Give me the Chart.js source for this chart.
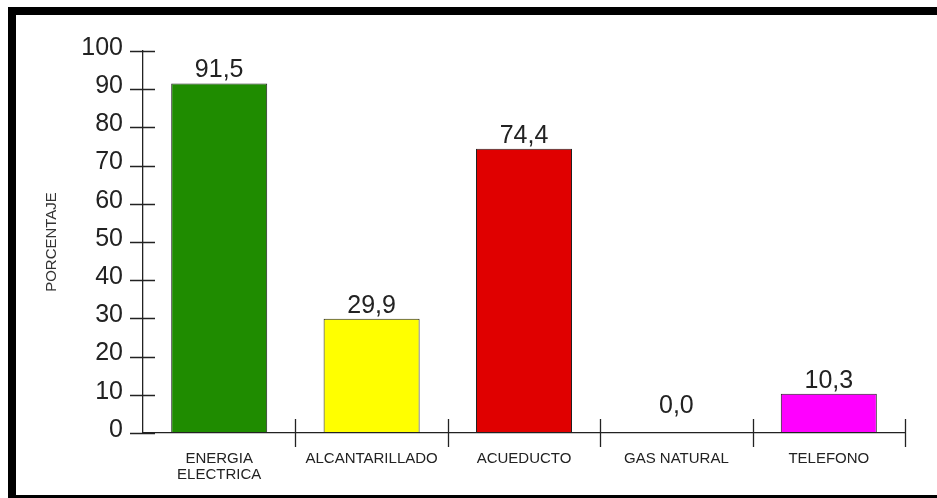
<!DOCTYPE html>
<html>
<head>
<meta charset="utf-8">
<script src="https://cdn.jsdelivr.net/npm/chart.js@4"></script>
<style>
  html, body { margin: 0; padding: 0; background: #fff; overflow: hidden; }
  #wrap { position: relative; width: 937px; height: 498px; }
  #frame {
    position: absolute; left: 8px; top: 7px; width: 1000px; height: 496px;
    box-sizing: border-box; border: 8px solid #000; pointer-events: none;
  }
  canvas { position: absolute; left: 0; top: 0; }
</style>
</head>
<body>
<div id="wrap">
  <canvas id="servicios" width="937" height="498"></canvas>
  <div id="frame"></div>
</div>
<script>
// ─── Datos ────────────────────────────────────────────

const categorias = [['ENERGIA', 'ELECTRICA'], 'ALCANTARILLADO', 'ACUEDUCTO', 'GAS NATURAL', 'TELEFONO'];
const porcentajes = [91.5, 29.9, 74.4, 0.0, 10.3];
const colores = ['#1f8c00', '#ffff00', '#e00000', '#ffffff', '#ff00ff'];
const ticksY = [0, 10, 20, 30, 40, 50, 60, 70, 80, 90, 100];

const INK = '#222';
const FONT = 'Arial, "Liberation Sans", sans-serif';

function fmt(v) {
  return v.toFixed(1).replace('.', ',');
}

// ─── Marcas de los ejes (cruzan la línea) ─────────────

const marcasEjes = {
  id: 'marcasEjes',
  afterDraw(chart) {
    const { ctx, scales: { x, y } } = chart;
    ctx.save();
    ctx.strokeStyle = INK;
    ctx.lineWidth = 1.3;
    ctx.beginPath();
    ticksY.forEach(v => {
      const py = Math.round(y.getPixelForValue(v)) + 0.5;
      ctx.moveTo(y.right - 13, py);
      ctx.lineTo(y.right + 12, py);
    });
    for (let i = 1; i <= categorias.length; i++) {
      const px = Math.round(x.getPixelForValue(i - 0.5)) + 0.5;
      ctx.moveTo(px, y.bottom - 14);
      ctx.lineTo(px, y.bottom + 14);
    }
    ctx.stroke();
    ctx.restore();
  },
};

// ─── Valores sobre las barras ─────────────────────────

const valoresBarras = {
  id: 'valoresBarras',
  afterDatasetsDraw(chart) {
    const { ctx } = chart;
    const meta = chart.getDatasetMeta(0);
    ctx.save();
    ctx.font = '25px ' + FONT;
    ctx.fillStyle = INK;
    ctx.textAlign = 'center';
    ctx.textBaseline = 'alphabetic';
    meta.data.forEach((bar, i) => {
      const top = Math.min(bar.y, bar.base - 14);
      ctx.fillText(fmt(porcentajes[i]), bar.x, top - 6);
    });
    ctx.restore();
  },
};

// ─── Gráfico ──────────────────────────────────────────

new Chart(document.getElementById('servicios'), {
  type: 'bar',
  data: {
    labels: categorias,
    datasets: [{
      data: porcentajes,
      backgroundColor: colores,
      borderColor: porcentajes.map(v => v > 0 ? INK : 'rgba(0,0,0,0)'),
      borderWidth: 1,
      borderSkipped: false,
      barPercentage: 0.63,
      categoryPercentage: 1,
    }],
  },
  options: {
    responsive: false,
    animation: false,
    layout: { padding: { left: 39, top: 51, right: 32, bottom: 0 } },
    scales: {
      x: {
        grid: { display: false, drawTicks: false },
        border: { display: true, color: INK, width: 1.3 },
        ticks: {
          color: INK,
          font: { size: 15, family: FONT, lineHeight: 1.12 },
          padding: 17,
          maxRotation: 0,
          autoSkip: false,
        },
        afterFit: s => { s.height = 65; },
      },
      y: {
        min: 0,
        max: 100,
        grid: { display: false, drawTicks: false },
        border: { display: true, color: INK, width: 1.3 },
        ticks: {
          stepSize: 10,
          color: INK,
          font: { size: 25, family: FONT },
          padding: 20,
          labelOffset: -3,
        },
        title: {
          display: true,
          text: 'PORCENTAJE',
          color: '#333',
          font: { size: 15, family: FONT },
          padding: { top: 4, bottom: 4 },
        },
        afterFit: s => { s.width = 104; },
      },
    },
    plugins: {
      legend: { display: false },
      tooltip: { enabled: false },
    },
  },
  plugins: [marcasEjes, valoresBarras],
});
</script>
</body>
</html>
